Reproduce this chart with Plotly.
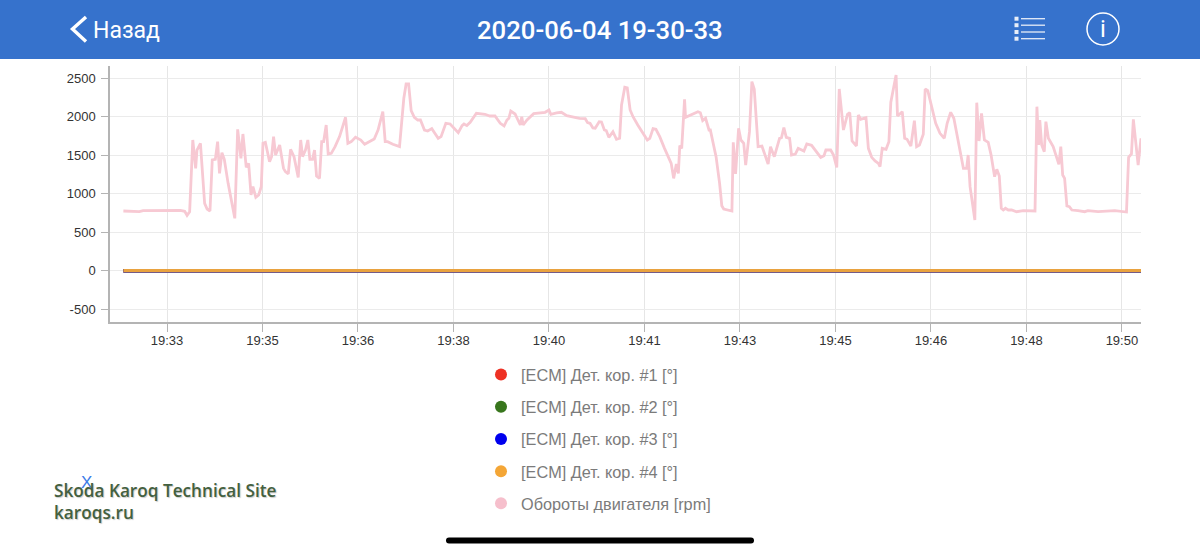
from datetime import datetime, timedelta
import plotly.graph_objects as go

BASE = datetime(2020, 6, 4, 19, 33, 20)

# seconds relative to 19:33:20
RPM_T = [-45.7,-30,-29,-25,11.5,14,18.5,21,23.7,27,30,31.4,35,39.4,42,45,47.4,50.6,53,55,57.5,60,64,71,74,77.4,79.5,83,85.5,88,90,93,96,98.7,100.5,103,107.4,109.5,111.6,113.7,118,122,124,127,129.4,133,137.4,140,142,145,147.5,149.6,152.4,154.5,156.6,159.7,162,164,166.7,168.8,172,176,180.7,187,189.4,193,197.4,203,207,212,217,221,226,228.5,231,236.5,243.5,248,250.4,253,255.7,259,262.6,265.4,269.6,273,277.3,281,284,287,292,
296.5,302,305,309,311,314,317.5,324,328,333,338,343.5,349,353,356,358,360,364.5,370,371.5,373,377,384,390.6,396,400,402,408,413,418.6,425,432,438,440.4,443,446,448.4,452.6,455,458,460,462.7,467,470.7,474,476,479.4,482,485,488,493,498.6,503,505.6,509,512,516,521,528,530.6,533.4,535.5,537,539,542,543,547,556,558.5,561,564,567.6,569,575,578.7,581,583,587,591.6,593,595.4,598.6,601,604,606,610,612.5,615,619,623,629.5,632,636,641.5,643.5,646,648.5,652,
654,658,661,667,670,675,684.6,688,690,695,698,701.4,704,708.4,712.6,715,717.4,722,724,726.5,732,734.5,738,741.5,745,746.7,749,753,756,758,763.5,765,770,772.5,775,779,782.7,785,788,792,794,796.7,801,805,809.5,814,817,820.7,824,828.7,834,837.4,839,841,846,848,850.4,853,856,860,863,866.7,869,871.6,873.7,875.8,878,881,884.5,889.7,896.7,909,911,912.8,914,916,918.7,920.4,923,928,934,936,938,940,942.4,945,947.6,954,961,964.4,971.7,975,992.6,1004.8,1007,1010,1012,1017,1020]
RPM = [775,775,766,779,775,784,771,719,766,1697,1329,1567,1654,875,801,775,1438,1446,1676,1264,1533,1446,1134,680,1836,1459,1775,1342,1394,983,1091,953,983,1091,1654,1667,1416,1481,1741,1502,1632,1329,1286,1256,1576,1481,1212,1697,1481,1567,1697,1446,1446,1567,1230,1199,1676,1676,1892,1515,1524,1611,1741,1992,1654,1676,1732,1697,1641,1676,1710,1827,2065,1676,1676,1641,1611,2239,2425,2425,2078,1992,1957,1957,1827,1814,1845,1775,1719,1741,1914,
1905,1827,1793,1884,1905,1884,1927,2044,2035,2031,2009,2009,1914,1879,1957,1979,2074,2035,1892,2000,1892,1957,2039,2048,2057,2087,2031,2048,2057,2013,1996,1979,1974,1923,1914,1853,1849,1935,1931,1827,1819,1732,1805,1706,1719,2152,2381,2373,2087,2000,1892,1775,1697,1719,1845,1836,1741,1589,1394,1199,1385,1264,1624,1589,2225,1992,2013,2065,2052,1948,1979,1827,1827,1481,1134,844,801,792,775,1667,1256,1849,1697,1654,1372,1805,2455,2355,1611,1619,1385,1611,1481,1719,1727,1857,1732,1719,
1502,1515,1589,1554,1645,1628,1472,1494,1567,1567,1502,1342,2360,1827,2031,2052,1684,1619,2022,1966,1987,1589,1472,1425,1394,1351,1589,1576,1676,2187,2542,2009,2065,1719,1706,1619,1948,1611,1632,1771,2360,2338,2130,1914,1784,1719,1914,2057,1979,1676,1329,1329,1502,1091,658,2182,1684,2044,1697,1667,1502,1221,1316,1230,810,788,810,788,788,766,779,775,2130,1632,1957,1632,1546,1935,1719,1611,1381,1611,1243,1199,840,831,788,779,766,779,775,766,779,762,1472,1515,1966,1372,1719]

DET_T = [-45.7, 1020]
DET_1 = [0, 0]
DET_2 = [0, 0]
DET_3 = [0, 0]
DET_4 = [0, 0]

SERIES_NAMES = ["[ECM] Дет. кор. #1 [°]", "[ECM] Дет. кор. #2 [°]", "[ECM] Дет. кор. #3 [°]",
                "[ECM] Дет. кор. #4 [°]", "Обороты двигателя [rpm]"]
COLORS = ["#EE3124", "#38761D", "#0000EE", "#F4A636", "#F6BFCC"]

Y_TICKS = [-500, 0, 500, 1000, 1500, 2000, 2500]
Y_LABELS = ["-500", "0", "500", "1000", "1500", "2000", "2500"]
X_TICK_T = [0, 100, 200, 300, 400, 500, 600, 700, 800, 900, 1000]
X_LABELS = ["19:33", "19:35", "19:36", "19:38", "19:40", "19:41", "19:43", "19:45", "19:46", "19:48", "19:50"]


def when(sec):
    return (BASE + timedelta(seconds=sec)).strftime("%Y-%m-%d %H:%M:%S.%f")[:-3]


L, R, T, B = 110, 1141, 66, 322
W, H = 1200, 555


def px(x):
    return (x - L) / (R - L)


def py(y):
    return (B - y) / (B - T)


fig = go.Figure()
series = [(DET_T, DET_1), (DET_T, DET_2), (DET_T, DET_3), (DET_T, DET_4), (RPM_T, RPM)]
draw_order = [4, 0, 1, 2, 3]
for i in draw_order:
    ts, vs = series[i]
    if i == 4:
        line = dict(color="#F7C9D3", width=2.8)
    elif i == 3:
        line = dict(color="#E9A23F", width=3.3)
    else:
        line = dict(color=COLORS[i], width=3.5)
    fig.add_trace(go.Scatter(
        x=[when(t) for t in ts], y=vs, mode="lines", showlegend=False, hoverinfo="skip",
        legendgroup=f"g{i}", line=line,
    ))
for i in range(5):
    fig.add_trace(go.Scatter(
        x=[None], y=[None], mode="markers", name=SERIES_NAMES[i], legendgroup=f"g{i}",
        marker=dict(color=COLORS[i], size=14, symbol="circle"),
    ))

shapes = [
    dict(type="rect", xref="paper", yref="paper", x0=px(0), x1=px(W), y0=py(0), y1=py(59),
         fillcolor="#3672CC", line_width=0, layer="above"),
    # back chevron
    dict(type="path", xref="paper", yref="paper",
         path=f"M {px(86)} {py(17)} L {px(72.5)} {py(29)} L {px(86)} {py(41.5)}",
         line=dict(color="white", width=3.4), layer="above"),
    # info icon
    dict(type="circle", xref="paper", yref="paper", x0=px(1087), x1=px(1119), y0=py(45), y1=py(13),
         line=dict(color="white", width=1.5), layer="above"),
    # home indicator
    dict(type="path", xref="paper", yref="paper",
         path=(f"M {px(449)} {py(537.5)} L {px(751)} {py(537.5)} Q {px(754)} {py(537.5)} {px(754)} {py(540.5)} "
               f"Q {px(754)} {py(543.5)} {px(751)} {py(543.5)} L {px(449)} {py(543.5)} "
               f"Q {px(446)} {py(543.5)} {px(446)} {py(540.5)} Q {px(446)} {py(537.5)} {px(449)} {py(537.5)} Z"),
         fillcolor="black", line_width=0, layer="above"),
]
for yy in [18.7, 25.2, 32, 38.7]:
    shapes.append(dict(type="line", xref="paper", yref="paper", x0=px(1021), x1=px(1045), y0=py(yy), y1=py(yy),
                       line=dict(color="#E8EEF8", width=1.3), layer="above"))
    shapes.append(dict(type="rect", xref="paper", yref="paper", x0=px(1014.5), x1=px(1018.5), y0=py(yy - 2), y1=py(yy + 2),
                       fillcolor="#E8EEF8", line_width=0, layer="above"))


def note(text, x, y, size, color, family="Liberation Sans", anchor="left", weight=None, shadow=None):
    font = dict(size=size, color=color, family=family)
    if weight:
        font["weight"] = weight
    if shadow:
        font["shadow"] = shadow
    return dict(text=text, x=px(x), y=py(y), xref="paper", yref="paper", showarrow=False,
                xanchor=anchor, yanchor="middle", font=font)


WM_SHADOW = "1px 1px 1px #CCCCCC"
annotations = [
    note("Назад", 90.5, 30, 23, "white", "Roboto"),
    note("2020-06-04 19-30-33", 600, 29.5, 25.7, "white", "Roboto", "center", weight=500),
    note("i", 1102.5, 29, 24, "white", "Roboto", "center"),
    note("X", 86, 482, 17, "#3C7BE8", "Liberation Sans", "center"),
    note("Skoda Karoq Technical Site", 52, 490, 17.2, "#43603F", "Open Sans", weight=600, shadow=WM_SHADOW),
    note("karoqs.ru", 52, 512, 17.2, "#43603F", "Open Sans", weight=600, shadow=WM_SHADOW),
]

fig.update_layout(
    width=W, height=H, autosize=False, paper_bgcolor="white", plot_bgcolor="white",
    margin=dict(l=L, r=W - R, t=T, b=H - B, pad=0),
    shapes=shapes, annotations=annotations,
    showlegend=True,
    legend=dict(x=px(481), y=py(357.5), xanchor="left", yanchor="top", tracegroupgap=8,
                itemsizing="constant", bgcolor="rgba(0,0,0,0)", borderwidth=0,
                font=dict(family="Liberation Sans", size=16.3, color="#7B7B7B"), itemclick=False, itemdoubleclick=False),
    xaxis=dict(type="date", range=[when(-59.7), when(1020)],
               tickmode="array", tickvals=[when(t) for t in X_TICK_T], ticktext=X_LABELS,
               showgrid=True, gridcolor="#E6E6E6", gridwidth=1, zeroline=False, ticklabelstandoff=-2,
               showline=True, linecolor="#B4B4B4", linewidth=1.5, ticks="outside", ticklen=8, tickcolor="#B4B4B4",
               tickfont=dict(family="Liberation Sans", size=13, color="#333333")),
    yaxis=dict(range=[-666, 2658], tickmode="array", tickvals=Y_TICKS, ticktext=Y_LABELS,
               showgrid=True, gridcolor="#EBEBEB", gridwidth=1, zeroline=False, ticklabelstandoff=3,
               showline=True, linecolor="#B4B4B4", linewidth=1.5, ticks="outside", ticklen=7, tickcolor="#B4B4B4",
               tickfont=dict(family="Liberation Sans", size=13, color="#333333")),
)

fig.write_html("out.html", post_script="document.body.style.margin='0';document.body.style.overflow='hidden';",
               config={"displayModeBar": False})
